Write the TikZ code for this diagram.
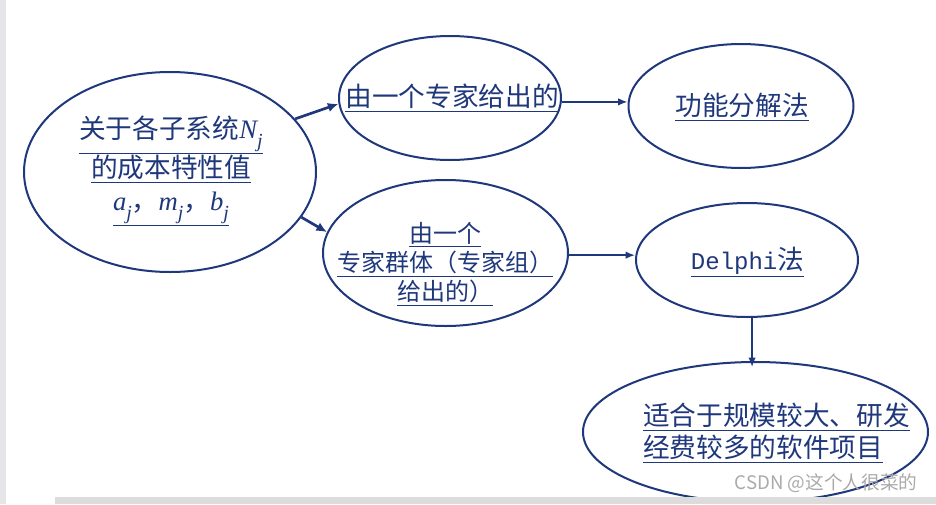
\documentclass[tikz,border=0pt]{standalone}
\usepackage{fontspec}
\newfontfamily\cjk{Noto Sans CJK SC}
\newfontfamily\monof{Liberation Mono}
\newfontfamily\tnr{Liberation Serif}
\newcommand\varsub[1]{{\tnr\itshape #1}\raisebox{-0.32em}{\tnr\itshape\fontsize{15}{15}\selectfont j}}
\usetikzlibrary{shapes.geometric,arrows.meta}
\definecolor{navyc}{RGB}{31,56,124}
\definecolor{wmc}{RGB}{170,170,170}
\definecolor{stripc}{RGB}{230,230,233}
\definecolor{bandc}{RGB}{220,220,220}
\newdimen\pxu \pxu=0.75pt
\begin{document}
\begin{tikzpicture}[x=0.75pt,y=-0.75pt,
  ell/.style={ellipse, draw=navyc, line width=1.5pt, inner sep=0pt},
  txt/.style={text=navyc, inner sep=0pt, align=center},
  arr/.style={draw=navyc, line width=1.1pt, -{Latex[length=7pt,width=5.5pt]}},
  arrb/.style={draw=navyc, line width=2pt, -{Latex[length=8pt,width=7pt]}}
]
\fill[white] (0,0) rectangle (936,504);
\useasboundingbox (0,0) rectangle (936,504);
\fill[stripc] (0,0) rectangle (6,504);

% ellipses
\node[ell, minimum width=292\pxu, minimum height=200\pxu] (e1) at (170,172) {};
\node[ell, minimum width=222\pxu, minimum height=124\pxu] (e2) at (450,98) {};
\node[ell, minimum width=225\pxu, minimum height=124\pxu] (e3) at (741,106) {};
\node[ell, minimum width=245\pxu, minimum height=146\pxu] (e4) at (445.5,253) {};
\node[ell, minimum width=222\pxu, minimum height=114\pxu] (e5) at (747,260) {};
\node[ell, minimum width=345\pxu, minimum height=140\pxu] (e6) at (755.5,432) {};

% texts
\node[txt, font=\cjk\fontsize{20}{24.4}\selectfont] (t1) at (171,171)
  {\underline{关于各子系统\varsub{N}}\\\underline{的成本特性值}\\\underline{\varsub{a}，\varsub{m}，\varsub{b}}};
\node[txt, font=\cjk\fontsize{20}{24}\selectfont] (t2) at (452,98) {\underline{由一个专家给出的}};
\node[txt, font=\cjk\fontsize{20}{24}\selectfont] (t3) at (742,107) {\underline{功能分解法}};
\node[txt, font=\cjk\fontsize{18}{21.75}\selectfont] (t4) at (445,264)
  {\underline{由一个}\\\underline{专家群体（专家组）}\\\underline{给出的）}};
\node[txt, font=\cjk\fontsize{20}{24}\selectfont] (t5) at (747.5,262)
  {\underline{{\monof\fontsize{18}{20}\selectfont Delphi}法}};
\node[txt, align=left, anchor=west, font=\cjk\fontsize{20}{24}\selectfont] (t6) at (643,433)
  {\underline{适合于规模较大、研发}\\\underline{经费较多的软件项目}};

% connectors
\draw[arrb] (e1.23.3) -- (e2.183.6);
\draw[arrb] (e1.-19.9) -- (e4.170.2);
\draw[arr] (e2.-2.4) -- (e2.-2.4 -| e3.west);
\draw[arr] (e4.-1.9) -- (e4.-1.9 -| e5.west);
\draw[arr, shorten >=-4.5pt] (e5.-85) -- (e5.-85 |- e6.north);

% bottom band and watermark
\fill[bandc] (55,497) rectangle (936,504);
\node[text=wmc, inner sep=0pt, font=\cjk\fontsize{14}{16}\selectfont] (wm) at (826,483) {CSDN @这个人很菜的};
\end{tikzpicture}
\end{document}
